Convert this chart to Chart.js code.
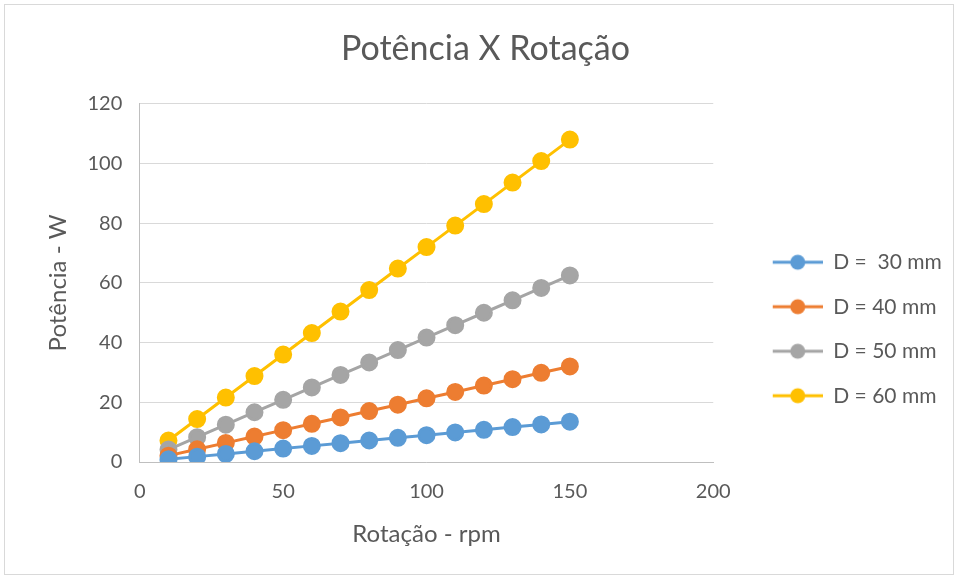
<!DOCTYPE html>
<html>
<head>
<meta charset="utf-8">
<script src="https://cdn.jsdelivr.net/npm/chart.js"></script>
<style>
  html, body { margin: 0; padding: 0; background: #fff; }
  #wrap { position: relative; width: 958px; height: 579px; }
  #frame { position: absolute; left: 4px; top: 4px; width: 950px; height: 571px; border: 1px solid #d9d9d9; box-sizing: border-box; pointer-events: none; }
</style>
</head>
<body>
<div id="wrap">
  <canvas id="chart" width="958" height="579"></canvas>
  <div id="frame"></div>
</div>
<script>
// ===== DATA =====
const RPM = [10, 20, 30, 40, 50, 60, 70, 80, 90, 100, 110, 120, 130, 140, 150];
const P_D30 = [0.9, 1.8, 2.7, 3.6, 4.5, 5.4, 6.3, 7.2, 8.1, 9.0, 9.9, 10.8, 11.7, 12.6, 13.5];
const P_D40 = [2.13, 4.27, 6.4, 8.53, 10.67, 12.8, 14.93, 17.07, 19.2, 21.33, 23.47, 25.6, 27.73, 29.87, 32.0];
const P_D50 = [4.17, 8.33, 12.5, 16.67, 20.83, 25.0, 29.17, 33.33, 37.5, 41.67, 45.83, 50.0, 54.17, 58.33, 62.5];
const P_D60 = [7.2, 14.4, 21.6, 28.8, 36.0, 43.2, 50.4, 57.6, 64.8, 72.0, 79.2, 86.4, 93.6, 100.8, 108.0];
const SERIES_LABELS = ['D =  30 mm', 'D = 40 mm', 'D = 50 mm', 'D = 60 mm'];
const X_TICKS = [0, 50, 100, 150, 200];
const Y_TICKS = [0, 20, 40, 60, 80, 100, 120];

// ===== STYLE =====
const COLORS = ['#5B9BD5', '#ED7D31', '#A5A5A5', '#FFC000'];
const TEXT = '#595959';
const FONT = "Lato, 'Open Sans', sans-serif";

Chart.defaults.font.family = FONT;
Chart.defaults.color = TEXT;

function toXY(ys) {
  return RPM.map((x, i) => ({ x, y: ys[i] }));
}

// legend marker: line with a dot, left part left blank as spacing
function legendMarker(color) {
  const c = document.createElement('canvas');
  c.width = 86; c.height = 18;
  const g = c.getContext('2d');
  g.strokeStyle = color; g.lineWidth = 3;
  g.beginPath(); g.moveTo(36, 9); g.lineTo(86, 9); g.stroke();
  g.fillStyle = color;
  g.beginPath(); g.arc(61, 9, 7.5, 0, Math.PI * 2); g.fill();
  return c;
}

const allSeries = [P_D30, P_D40, P_D50, P_D60];
const datasets = allSeries.map((ys, i) => ({
  label: SERIES_LABELS[i],
  data: toXY(ys),
  borderColor: COLORS[i],
  backgroundColor: COLORS[i],
  pointBackgroundColor: COLORS[i],
  pointBorderColor: COLORS[i],
  pointRadius: 7.5,
  pointHoverRadius: 7.5,
  borderWidth: 3,
  showLine: true,
  pointStyle: 'circle',
  legendStyle: legendMarker(COLORS[i])
}));

new Chart(document.getElementById('chart'), {
  type: 'scatter',
  data: { datasets },
  options: {
    responsive: false,
    animation: false,
    layout: { padding: { left: 30, right: 17, top: 10, bottom: 33 } },
    plugins: {
      title: {
        display: true,
        text: 'Potência X Rotação',
        font: { size: 34, weight: 'normal' },
        color: TEXT,
        padding: { top: 19, bottom: 34 }
      },
      legend: {
        position: 'right',
        title: { display: true, text: ' ', font: { size: 10 }, padding: { top: 90, bottom: 0 } },
        labels: {
          usePointStyle: true,
          pointStyleWidth: 86,
          padding: 23.5,
          font: { size: 21 },
          color: TEXT,
          generateLabels: chart => chart.data.datasets.map((d, i) => ({
            text: d.label,
            pointStyle: d.legendStyle,
            fillStyle: d.backgroundColor,
            strokeStyle: d.borderColor,
            lineWidth: 0,
            fontColor: TEXT,
            hidden: false,
            datasetIndex: i
          }))
        }
      },
      tooltip: { enabled: false }
    },
    scales: {
      x: {
        type: 'linear',
        min: X_TICKS[0],
        max: X_TICKS[X_TICKS.length - 1],
        afterBuildTicks: s => { s.ticks = X_TICKS.map(v => ({ value: v })); },
        grid: { display: false, drawTicks: false },
        border: { display: true, color: '#bfbfbf', width: 1 },
        ticks: { font: { size: 20 }, color: TEXT, padding: 18 },
        title: { display: true, text: 'Rotação - rpm', font: { size: 24, lineHeight: 1 }, color: TEXT, padding: { top: 0, bottom: 0 } }
      },
      y: {
        type: 'linear',
        min: Y_TICKS[0],
        max: Y_TICKS[Y_TICKS.length - 1],
        afterBuildTicks: s => { s.ticks = Y_TICKS.map(v => ({ value: v })); },
        grid: { color: '#d9d9d9', lineWidth: 1, drawTicks: false },
        border: { display: true, color: '#bfbfbf', width: 1 },
        ticks: { font: { size: 20 }, color: TEXT, padding: 17.5 },
        title: { display: true, text: 'Potência - W', font: { size: 24, lineHeight: 1 }, color: TEXT, padding: { top: 16, bottom: 0 } }
      }
    }
  }
});
</script>
</body>
</html>
